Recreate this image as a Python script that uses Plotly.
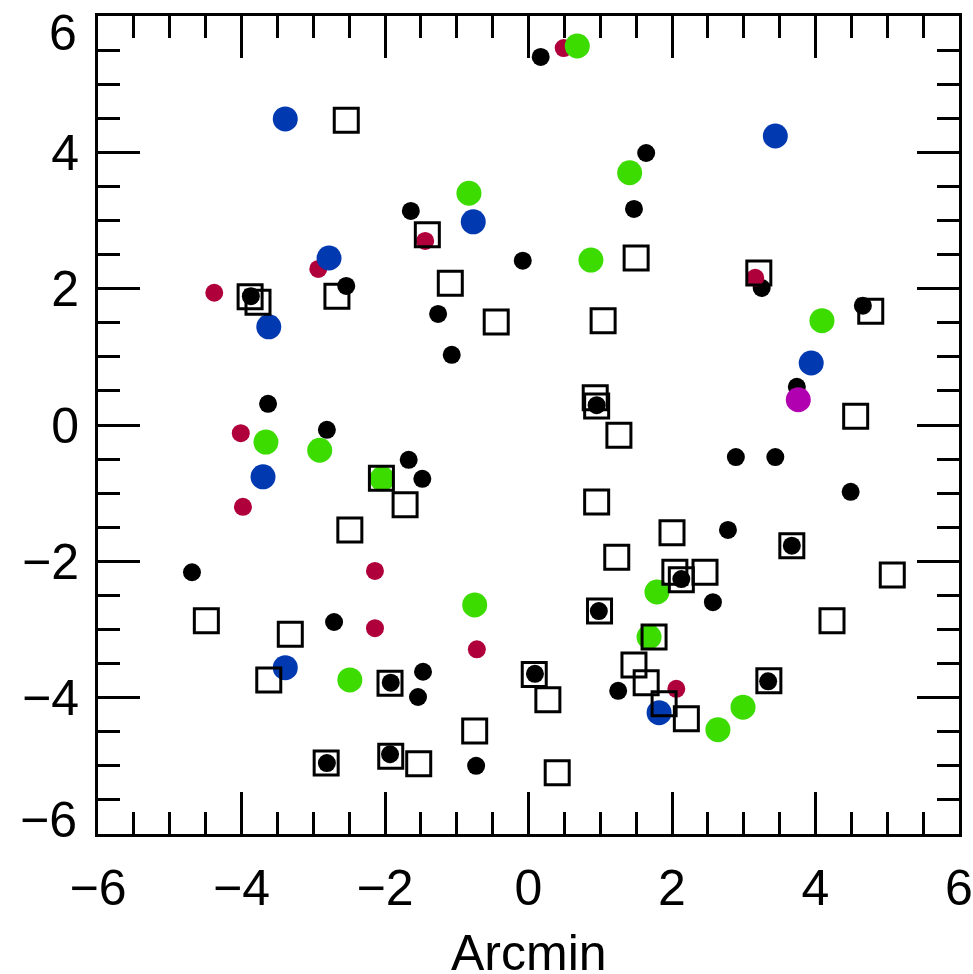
import plotly.graph_objects as go

black_x = [0.17, 1.64, -1.64, 1.47, -0.08, -2.54, -3.87, -1.26, -1.07, 3.25, 4.66, 3.74, -3.63, 0.95,
           -2.81, -1.67, -1.48, 2.89, 3.44, 4.49, 2.78, 3.67, -4.69, 2.13, 2.57, 0.98, -2.71, -1.47,
           -1.54, -1.92, 0.09, 1.25, 3.34, -2.81, -1.93, -0.73]
black_y = [5.40, 3.99, 3.14, 3.17, 2.41, 2.04, 1.89, 1.63, 1.03, 2.01, 1.75, 0.56, 0.31, 0.29,
           -0.07, -0.51, -0.79, -0.47, -0.47, -0.98, -1.54, -1.77, -2.16, -2.26, -2.60, -2.73, -2.89, -3.62,
           -3.99, -3.78, -3.65, -3.90, -3.76, -4.96, -4.83, -5.00]

red_x = [0.49, -4.38, -2.93, -1.44, 3.16, -4.01, -3.98, -2.14, -2.14, -0.72, 2.06]
red_y = [5.53, 1.94, 2.29, 2.70, 2.16, -0.12, -1.20, -2.14, -2.98, -3.29, -3.87]

blue_x = [-3.39, 3.44, -0.77, -2.78, -3.62, 3.94, -3.70, -3.39, 1.82]
blue_y = [4.49, 4.24, 2.98, 2.45, 1.44, 0.91, -0.76, -3.56, -4.22]

green_x = [0.68, 1.41, -0.83, 0.87, 4.09, -3.66, -2.91, -2.04, -0.75, 1.79, 1.68, -2.49, 2.99, 2.64]
green_y = [5.56, 3.70, 3.40, 2.42, 1.53, -0.25, -0.37, -0.79, -2.64, -2.45, -3.11, -3.74, -4.14, -4.47]

magenta_x = [3.76]
magenta_y = [0.37]

square_x = [-2.54, -1.41, 1.50, -1.09, -2.67, -3.88, -3.77, -0.45, 1.04, 3.21, 4.77, 0.93, 0.95, 1.26,
            4.56, -2.05, -1.72, -2.49, 0.95, 2.00, 1.23, 3.67, 5.07, 2.04, 2.13, 2.46, 0.99, -4.49,
            -3.32, 4.23, 1.75, 1.47, 1.64, 1.89, 2.20, 3.35, 0.27, 0.40, 0.08, -1.93, -0.75, -2.82,
            -1.92, -1.53, -3.62]
square_y = [4.47, 2.79, 2.45, 2.08, 1.89, 1.88, 1.80, 1.51, 1.53, 2.23, 1.67, 0.40, 0.28, -0.15,
            0.13, -0.78, -1.17, -1.54, -1.13, -1.58, -1.94, -1.77, -2.20, -2.16, -2.27, -2.16, -2.73, -2.87,
            -3.07, -2.87, -3.11, -3.52, -3.78, -4.09, -4.31, -3.75, -4.03, -5.10, -3.66, -3.79, -4.49, -4.96,
            -4.86, -4.97, -3.74]

x_tick_vals = [-6, -4, -2, 0, 2, 4, 6]
x_tick_text = ["\u22126", "\u22124", "\u22122", "0", "2", "4", "6"]
y_tick_vals = [-4, -2, 0, 2, 4]
y_tick_text = ["\u22124", "\u22122", "0", "2", "4"]
y_end_vals = [6, -6]
y_end_text = ["6", "\u22126"]
x_title = "Arcmin"

FONT = "Liberation Sans, Arial, sans-serif"
FS = 50

fig = go.Figure()

def circles(x, y, color, size):
    fig.add_trace(go.Scatter(x=x, y=y, mode="markers",
                             marker=dict(symbol="circle", size=size, color=color, line=dict(width=0)),
                             showlegend=False, hoverinfo="skip"))

circles(black_x, black_y, "#000000", 18)
circles(red_x, red_y, "#B0003C", 18)
circles(green_x, green_y, "#3CDC00", 25)
circles(blue_x, blue_y, "#0039B0", 25)
circles(magenta_x, magenta_y, "#B000B0", 25)

fig.add_trace(go.Scatter(x=square_x, y=square_y, mode="markers",
                         marker=dict(symbol="square-open", size=24, color="#000000",
                                     line=dict(width=3, color="#000000")),
                         showlegend=False, hoverinfo="skip"))

axis_common = dict(
    range=[-6, 6], showgrid=False, zeroline=False,
    showline=True, linecolor="black", linewidth=3, mirror="allticks",
    ticks="inside", ticklen=42, tickwidth=3, tickcolor="black",
    tickmode="array", ticklabeloverflow="allow",
    tickfont=dict(family=FONT, size=FS, color="black"),
    minor=dict(ticks="inside", ticklen=22, tickwidth=3, tickcolor="black", dtick=0.5, tick0=0, showgrid=False),
)

fig.update_xaxes(**axis_common, tickvals=x_tick_vals, ticktext=x_tick_text, ticklabelstandoff=8)
fig.update_yaxes(**axis_common, tickvals=y_tick_vals, ticktext=y_tick_text, ticklabelstandoff=6)

# x-axis title (placed as annotation so it may sit at the very bottom edge like the original)
fig.add_annotation(x=0.5, xref="paper", y=0, yref="paper", text=x_title, showarrow=False,
                   xanchor="center", yanchor="middle", yshift=-119,
                   font=dict(family=FONT, size=FS, color="black"))

# end labels of the y axis, shifted inward as in the original
for v, t, shift in zip(y_end_vals, y_end_text, [-17, 14]):
    fig.add_annotation(x=0, xref="paper", y=v, yref="y", text=t, showarrow=False,
                       xanchor="right", yanchor="middle", xshift=-19, yshift=shift,
                       font=dict(family=FONT, size=FS, color="black"))

fig.update_layout(
    width=973, height=974,
    margin=dict(l=98, r=14, t=16, b=140, autoexpand=False),
    plot_bgcolor="white", paper_bgcolor="white",
)

fig.write_html("out.html", config={"displayModeBar": False},
               post_script="document.body.style.margin='0';document.body.style.overflow='hidden';")
